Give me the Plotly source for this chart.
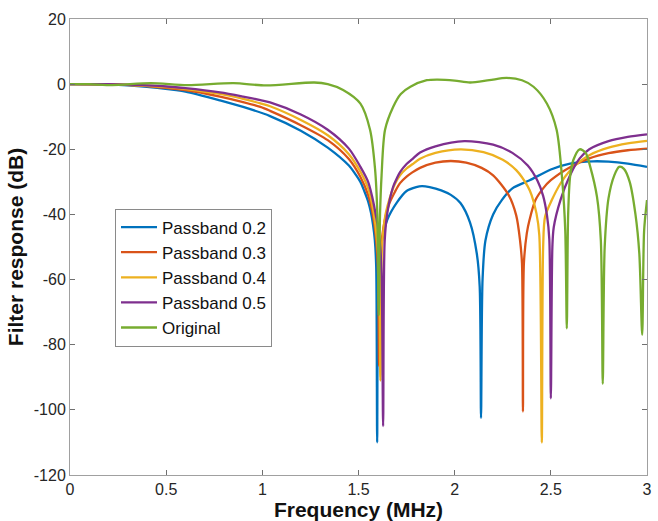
import plotly.graph_objects as go

# ---------------- data ----------------
freq_pb02 = [0, 0.2, 0.4, 0.52, 0.6, 0.78, 0.9, 1.04, 1.2, 1.34, 1.45, 1.48, 1.51, 1.53, 1.55, 1.565, 1.575,
             1.585, 1.592, 1.597,
             1.604, 1.62, 1.65, 1.7, 1.75, 1.8, 1.83, 1.87, 1.93, 1.98, 2.03, 2.08, 2.115, 2.13, 2.137,
             2.145, 2.16, 2.2, 2.245, 2.3, 2.39, 2.5, 2.6, 2.72, 2.8, 2.9, 3.0]
resp_pb02 = [0, -0.1, -0.8, -1.6, -2.3, -5.0, -7.0, -9.8, -14.3, -19.5, -25, -27.3, -30, -32.8, -36, -39.5, -43,
             -48, -56, -110,
             -59, -48.8, -41.6, -36.3, -32.8, -31.6, -31.3, -31.6, -32.6, -34.0, -36.5, -42.5, -52, -62, -102.5,
             -60, -48, -40, -35.6, -32, -29.5, -26.2, -24.4, -23.7, -23.8, -24.4, -25.4]

freq_pb03 = [0, 0.2, 0.4, 0.52, 0.6, 0.78, 0.9, 0.99, 1.04, 1.2, 1.34, 1.45, 1.51, 1.55, 1.58, 1.6, 1.607,
             1.614, 1.63, 1.66, 1.69, 1.716, 1.75, 1.78, 1.82, 1.9, 1.98, 2.06, 2.14, 2.2, 2.28, 2.32, 2.34, 2.35,
             2.355,
             2.36, 2.375, 2.39, 2.42, 2.46, 2.5, 2.6, 2.7, 2.8, 2.9, 3.0]
resp_pb03 = [0, -0.1, -0.6, -1.3, -1.8, -3.8, -5.5, -7.0, -8.2, -12.6, -17.2, -23, -28.5, -34, -42, -55, -86.5,
             -54, -43.9, -36.7, -33.0, -30.4, -28.4, -27.1, -25.7, -24.1, -23.6, -24.1, -25.7, -28, -34, -40.3, -48,
             -55, -100.5,
             -55, -45.8, -41.5, -35.6, -32, -29.5, -25.5, -22.8, -21.2, -20.3, -19.8]

freq_pb04 = [0, 0.2, 0.4, 0.52, 0.6, 0.78, 0.9, 0.99, 1.04, 1.2, 1.34, 1.45, 1.51, 1.55, 1.58, 1.605, 1.614,
             1.622, 1.64, 1.67, 1.69, 1.716, 1.75, 1.78, 1.82, 1.9, 2.03, 2.15, 2.25, 2.32, 2.38, 2.4, 2.425, 2.44,
             2.453,
             2.46, 2.47, 2.505, 2.55, 2.6, 2.65, 2.7, 2.8, 2.9, 3.0]
resp_pb04 = [0, -0.05, -0.5, -1.0, -1.5, -3.0, -4.5, -5.9, -6.8, -11.0, -15.7, -21.5, -26.9, -32, -40, -55, -91,
             -50.5, -40.2, -33.6, -30.6, -28.0, -25.9, -24.6, -22.9, -21.1, -20, -20.9, -23.2, -26.4, -31.4, -34.1,
             -39.6, -46.3, -110,
             -50, -40.7, -35.6, -30.5, -26.5, -23.8, -21.8, -19.5, -18.2, -17.4]

freq_pb05 = [0, 0.2, 0.4, 0.52, 0.6, 0.78, 0.9, 0.99, 1.04, 1.2, 1.34, 1.45, 1.51, 1.55, 1.58, 1.61, 1.62, 1.628,
             1.636, 1.65, 1.68, 1.7, 1.716, 1.75, 1.78, 1.82, 1.9, 2.05, 2.2, 2.3, 2.38, 2.43, 2.46, 2.48, 2.492,
             2.5,
             2.508, 2.515, 2.55, 2.6, 2.65, 2.7, 2.8, 2.9, 3.0]
resp_pb05 = [0, 0, -0.4, -0.8, -1.2, -2.5, -3.8, -4.9, -5.6, -9.3, -14.0, -19.8, -25.4, -30, -37, -48, -58, -105,
             -48.3, -39.5, -31.5, -28.8, -27.0, -24.5, -23.0, -21.0, -19.1, -17.5, -18.6, -21.1, -25, -29.6, -34.3,
             -40.3, -47.5, -96.5,
             -50, -44, -35.6, -28, -22.8, -20, -17.5, -16.2, -15.4]

freq_orig = [0, 0.1, 0.22, 0.42, 0.61, 0.85, 1.02, 1.27, 1.34, 1.42, 1.51, 1.56, 1.586, 1.598, 1.605,
             1.612, 1.62, 1.638, 1.68, 1.72, 1.77, 1.855, 1.91, 2.0, 2.08, 2.18, 2.27, 2.35, 2.41, 2.48, 2.53,
             2.56, 2.575, 2.583, 2.59, 2.6, 2.617, 2.65, 2.68, 2.705, 2.74, 2.76, 2.77, 2.78, 2.8, 2.83, 2.855,
             2.88, 2.91, 2.94, 2.96, 2.975, 2.985, 3.0]
resp_orig = [0, 0, -0.3, 0.3, -0.3, 0.3, -0.4, 0.5, 0, -1.8, -6, -14, -26, -40, -71,
             -40, -28, -14, -7, -3, -0.8, 1.2, 1.4, 1.1, 0.5, 1.2, 1.9, 1.2, -0.8, -6, -14,
             -30, -45, -75, -40, -28.5, -23.3, -20, -21, -25.4, -34.6, -48, -92, -50, -35, -28, -25.4,
             -26, -30, -40, -52, -77, -45, -35.6]

series_names = ["Passband 0.2", "Passband 0.3", "Passband 0.4", "Passband 0.5", "Original"]
series_x = [freq_pb02, freq_pb03, freq_pb04, freq_pb05, freq_orig]
series_y = [resp_pb02, resp_pb03, resp_pb04, resp_pb05, resp_orig]
series_colors = ["#0072BD", "#D95319", "#EDB120", "#7E2F8E", "#77AC30"]

x_ticks = [0, 0.5, 1, 1.5, 2, 2.5, 3]
x_tick_labels = ["0", "0.5", "1", "1.5", "2", "2.5", "3"]
y_ticks = [-120, -100, -80, -60, -40, -20, 0, 20]
y_tick_labels = ["-120", "-100", "-80", "-60", "-40", "-20", "0", "20"]

FONT = "Liberation Sans, Arial, sans-serif"

# ---------------- figure ----------------
fig = go.Figure()
for name, xs, ys, col in zip(series_names, series_x, series_y, series_colors):
    fig.add_trace(go.Scatter(x=xs, y=ys, mode="lines", name=name,
                             line=dict(color=col, width=2.3, shape="spline", smoothing=0.8)))

axis_common = dict(showgrid=False, zeroline=False, showline=True, linecolor="#a0a0a0",
                   linewidth=1, mirror="ticks", ticks="inside", ticklen=5, tickcolor="#707070",
                   automargin=False,
                   tickfont=dict(family=FONT, size=16, color="#262626"))

fig.update_layout(
    width=658, height=521,
    margin=dict(l=70, r=11, t=19, b=46),
    paper_bgcolor="white", plot_bgcolor="white",
    xaxis=dict(range=[0, 3], tickvals=x_ticks, ticktext=x_tick_labels,
               title=dict(text="<b>Frequency (MHz)</b>", standoff=4,
                          font=dict(family=FONT, size=21, color="#111")),
               **axis_common),
    yaxis=dict(range=[-120, 20], tickvals=y_ticks, ticktext=y_tick_labels,
               title=dict(text="<b>Filter response (dB)</b>", standoff=4,
                          font=dict(family=FONT, size=21, color="#111")),
               **axis_common),
    legend=dict(x=0.078, y=0.433, xanchor="left", yanchor="middle",
                bgcolor="white", bordercolor="#8a8a8a", borderwidth=1,
                font=dict(family=FONT, size=17, color="#111"),
                itemwidth=36, tracegroupgap=0),
    showlegend=True,
)

fig.write_html("out.html")
